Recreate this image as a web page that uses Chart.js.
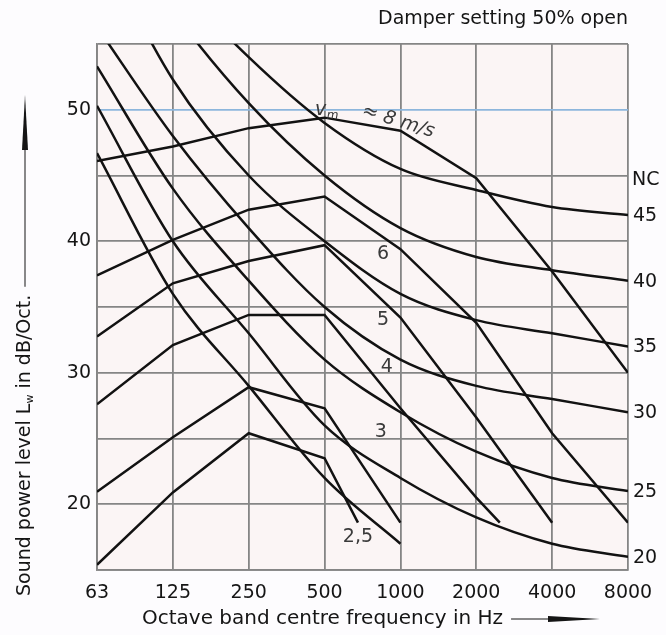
<!DOCTYPE html>
<html>
<head>
<meta charset="utf-8">
<script src="https://cdn.jsdelivr.net/npm/chart.js@4.4.1/dist/chart.umd.min.js"></script>
<style>
  html, body { margin: 0; padding: 0; background: #fdfcfe; }
  canvas { display: block; }
</style>
</head>
<body>
<canvas id="chart" width="666" height="635"></canvas>
<script>
// octave band centres (x positions are the band index 0..7)
const freqLabels = ['63', '125', '250', '500', '1000', '2000', '4000', '8000'];

// NC curves, values per octave band
const ncLevels = [15, 20, 25, 30, 35, 40, 45];
const nc15 = [46.7, 36, 29, 22, 17];
const nc20 = [50.3, 40, 33, 26, 22, 19, 17, 16];
const nc25 = [53.3, 44, 37, 31, 27, 24, 22, 21];
const nc30 = [56.3, 48, 41, 35, 31, 29, 28, 27];
const nc35 = [63, 52.3, 45, 40, 36, 34, 33, 32];
const nc40 = [66, 57.5, 50.5, 45, 41, 38.8, 37.8, 37];
const nc45 = [67, 60, 54, 49, 45.5, 43.9, 42.6, 42];
const ncCurves = [nc15, nc20, nc25, nc30, nc35, nc40, nc45];

// face velocity curves (x = band index, last point may end between bands)
const velLabels = ['8', '6', '5', '4', '3', '2,5'];
const v8X = [0, 1, 2, 3, 4, 5, 6, 7];
const v8Y = [46.1, 47.2, 48.6, 49.4, 48.4, 44.8, 37.7, 30.0];
const v6X = [0, 1, 2, 3, 4, 5, 6, 7];
const v6Y = [37.4, 40.1, 42.4, 43.4, 39.4, 33.8, 25.4, 18.6];
const v5X = [0, 1, 2, 3, 4, 5, 6];
const v5Y = [32.75, 36.8, 38.5, 39.7, 34.2, 26.6, 18.6];
const v4X = [0, 1, 2, 3, 4, 5, 5.31];
const v4Y = [27.6, 32.1, 34.4, 34.4, 27.3, 20.5, 18.6];
const v3X = [0, 1, 2, 3, 4];
const v3Y = [20.95, 25.1, 28.9, 27.3, 18.6];
const v25X = [0, 1, 2, 3, 3.44];
const v25Y = [15.4, 20.9, 25.4, 23.5, 18.6];
const velCurves = [[v8X, v8Y], [v6X, v6Y], [v5X, v5Y], [v4X, v4Y], [v3X, v3Y], [v25X, v25Y]];

// where the curve labels sit (band index, dB)
const velLabelPos = [null, [3.77, 39.0], [3.77, 34.0], [3.82, 30.4], [3.74, 25.5], [3.44, 17.5]];

const FONT = '"DejaVu Sans", sans-serif';
const INK = '#121212';
const GRID = '#858585';

const datasets = [];
ncCurves.forEach(function (vals, i) {
    datasets.push({
        label: 'NC ' + ncLevels[i],
        data: vals.map(function (v, j) { return { x: j, y: v }; }),
        borderColor: INK,
        borderWidth: 2.5,
        pointRadius: 0,
        cubicInterpolationMode: 'monotone',
        fill: false
    });
});
velCurves.forEach(function (c, i) {
    datasets.push({
        label: 'v ' + velLabels[i],
        data: c[0].map(function (x, j) { return { x: x, y: c[1][j] }; }),
        borderColor: INK,
        borderWidth: 2.5,
        pointRadius: 0,
        tension: 0,
        fill: false
    });
});

function wedge(ctx, x0, len, w) {
    // long thin arrow pointing along +x, starting at x0
    ctx.beginPath();
    ctx.moveTo(x0, -w / 2);
    ctx.lineTo(x0 + len, 0);
    ctx.lineTo(x0, w / 2);
    ctx.closePath();
    ctx.fill();
}

const annotations = {
    id: 'annotations',
    beforeDraw(chart) {
        const ctx = chart.ctx;
        const a = chart.chartArea;
        ctx.save();
        ctx.fillStyle = '#fdfcfe';
        ctx.fillRect(0, 0, chart.width, chart.height);
        ctx.fillStyle = '#fbf5f5';
        ctx.fillRect(a.left, a.top, a.right - a.left, a.bottom - a.top);
        ctx.restore();
    },
    afterDraw(chart) {
        const ctx = chart.ctx;
        const a = chart.chartArea;
        const xs = chart.scales.x;
        const ys = chart.scales.y;
        ctx.save();
        ctx.fillStyle = '#151515';
        ctx.strokeStyle = '#151515';

        // header
        ctx.font = '19px ' + FONT;
        ctx.textAlign = 'right';
        ctx.textBaseline = 'middle';
        ctx.fillText('Damper setting 50% open', a.right, 19);

        // NC labels on the right, at the end of each NC curve
        ctx.textAlign = 'left';
        ncCurves.forEach(function (vals, i) {
            if (vals.length < freqLabels.length) return;
            const y = ys.getPixelForValue(vals[vals.length - 1]);
            ctx.fillText(String(ncLevels[i]), a.right + 5, y + 1);
        });
        ctx.fillText('NC', a.right + 4, ys.getPixelForValue(nc45[7]) - 35);

        // velocity labels
        ctx.fillStyle = '#3a3a3a';
        ctx.textAlign = 'center';
        velLabelPos.forEach(function (p, i) {
            if (!p) return;
            ctx.fillText(velLabels[i], xs.getPixelForValue(p[0]), ys.getPixelForValue(p[1]));
        });
        // v_m = 8 m/s
        const vx = xs.getPixelForValue(3.0);
        const vy = ys.getPixelForValue(49.9);
        ctx.font = 'italic 19px ' + FONT;
        ctx.fillText('v', vx - 4, vy - 1);
        ctx.font = 'italic 12px ' + FONT;
        ctx.fillText('m', vx + 8, vy + 5);
        ctx.save();
        ctx.translate(xs.getPixelForValue(3.97), ys.getPixelForValue(49.1));
        ctx.rotate(17 * Math.PI / 180);
        ctx.font = 'italic 19px ' + FONT;
        ctx.fillText('\u2248 8 m/s', 0, 0);
        ctx.restore();

        // x axis title with arrow
        ctx.fillStyle = '#151515';
        ctx.font = '20px ' + FONT;
        ctx.textAlign = 'left';
        const xt = 'Octave band centre frequency in Hz';
        const tx = 142, ty = 619;
        ctx.fillText(xt, tx, ty);
        const xe = tx + ctx.measureText(xt).width + 8;
        ctx.lineWidth = 1;
        ctx.beginPath();
        ctx.moveTo(xe, ty);
        ctx.lineTo(550, ty);
        ctx.stroke();
        ctx.save();
        ctx.translate(0, ty);
        wedge(ctx, 548, 52, 6);
        ctx.restore();

        // y axis title with arrow
        ctx.save();
        ctx.translate(25, 596);
        ctx.rotate(-Math.PI / 2);
        ctx.textBaseline = 'middle';
        ctx.font = '19px ' + FONT;
        let px = 0;
        const p1 = 'Sound power level L';
        ctx.fillText(p1, px, 0);
        px += ctx.measureText(p1).width;
        ctx.font = '11px ' + FONT;
        ctx.fillText('w', px, 5);
        px += ctx.measureText('w').width;
        ctx.font = '19px ' + FONT;
        const p2 = ' in dB/Oct.';
        ctx.fillText(p2, px, 0);
        px += ctx.measureText(p2).width + 8;
        ctx.beginPath();
        ctx.moveTo(px, 0);
        ctx.lineTo(448, 0);
        ctx.stroke();
        wedge(ctx, 446, 55, 6);
        ctx.restore();

        ctx.restore();
    }
};

new Chart(document.getElementById('chart').getContext('2d'), {
    type: 'line',
    data: { datasets: datasets },
    options: {
        responsive: false,
        animation: false,
        events: [],
        layout: { padding: { top: 44, right: 38, left: 0, bottom: 0 } },
        plugins: { legend: { display: false }, tooltip: { enabled: false } },
        scales: {
            x: {
                type: 'linear',
                min: 0,
                max: 7,
                afterFit: function (s) { s.height = 65; },
                ticks: {
                    stepSize: 1,
                    padding: 12,
                    color: '#151515',
                    font: { family: FONT, size: 19 },
                    maxRotation: 0,
                    callback: function (v) { return freqLabels[v]; }
                },
                grid: { color: GRID, lineWidth: 1.8, drawTicks: false },
                border: { color: GRID, width: 1.8 }
            },
            y: {
                type: 'linear',
                min: 15,
                max: 55,
                afterFit: function (s) { s.width = 97; },
                ticks: {
                    stepSize: 5,
                    padding: 6,
                    color: '#151515',
                    font: { family: FONT, size: 19 },
                    callback: function (v) { return v % 10 === 0 ? v : ''; }
                },
                grid: {
                    color: function (c) { return c.tick && c.tick.value === 50 ? '#8db6dc' : GRID; },
                    lineWidth: 1.8,
                    drawTicks: false
                },
                border: { color: GRID, width: 1.8 }
            }
        }
    },
    plugins: [annotations]
});
</script>
</body>
</html>
